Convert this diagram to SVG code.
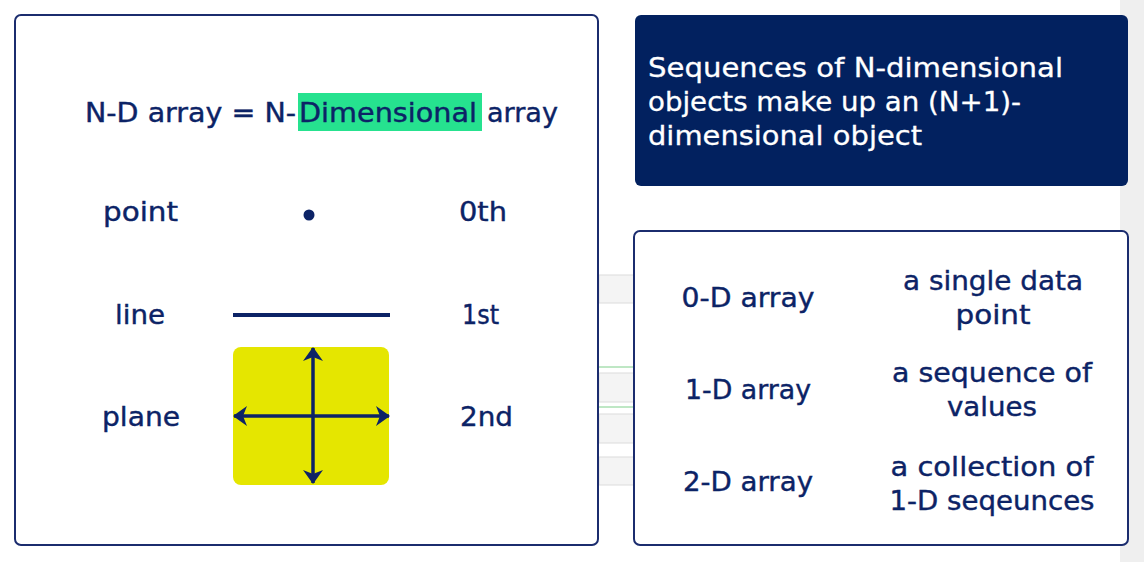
<svg xmlns="http://www.w3.org/2000/svg" width="1144" height="562" viewBox="0 0 1144 562">
<style>
.t{font-family:"DejaVu Sans","Liberation Sans",sans-serif;font-size:26px;fill:#0c2366;stroke:#0c2366;stroke-width:0.4}
.w{font-family:"DejaVu Sans","Liberation Sans",sans-serif;font-size:26px;fill:#ffffff;stroke:#ffffff;stroke-width:0.3}
.c{text-anchor:middle}
.box{fill:#ffffff;stroke:#1b2c6e;stroke-width:2}
.ax{stroke:#0c2366;stroke-width:3.5;fill:none}
.strip{fill:#f4f4f4;stroke:#dcdcdc;stroke-width:1}
</style>
<defs>
<marker id="ah" viewBox="0 0 14 20" refX="13" refY="10" markerWidth="14" markerHeight="20" markerUnits="userSpaceOnUse" orient="auto-start-reverse">
<path d="M0,0 L14,10 L0,20 L4,10 Z" fill="#0c2366"/>
</marker>
</defs>
<rect width="1144" height="562" fill="#ffffff"/>
<rect x="1120" y="0" width="24" height="562" fill="#efefef"/>
<g id="gaps">
<rect class="strip" x="599" y="275" width="35" height="28"/>
<line x1="599" y1="367" x2="634" y2="367" stroke="#7fcf8a" stroke-width="1"/>
<rect class="strip" x="599" y="373" width="35" height="29"/>
<line x1="599" y1="407" x2="634" y2="407" stroke="#7fcf8a" stroke-width="1"/>
<rect class="strip" x="599" y="414" width="35" height="29"/>
<rect class="strip" x="599" y="457" width="35" height="28"/>
</g>
<g id="left-panel">
<rect class="box" x="15" y="15" width="583" height="530" rx="6"/>
<rect x="298" y="93" width="184" height="38" fill="#26e28f"/>
<text class="t" y="122"><tspan x="85" textLength="211" lengthAdjust="spacingAndGlyphs">N-D array = N-</tspan><tspan x="299" textLength="178" lengthAdjust="spacingAndGlyphs">Dimensional</tspan><tspan x="487" textLength="71" lengthAdjust="spacingAndGlyphs">array</tspan></text>
</g>
<g id="row-point">
<text class="t" x="103" y="221" textLength="75" lengthAdjust="spacingAndGlyphs">point</text>
<circle cx="309" cy="215" r="5.5" fill="#0c2366"/>
<text class="t" x="459" y="221" textLength="48" lengthAdjust="spacingAndGlyphs">0th</text>
</g>
<g id="row-line">
<text class="t" x="115" y="324" textLength="50" lengthAdjust="spacingAndGlyphs">line</text>
<line x1="233" y1="315" x2="390" y2="315" stroke="#0c2366" stroke-width="4"/>
<text class="t" x="462" y="324" textLength="37" lengthAdjust="spacingAndGlyphs">1st</text>
</g>
<g id="row-plane">
<text class="t" x="102" y="426" textLength="78" lengthAdjust="spacingAndGlyphs">plane</text>
<rect x="233" y="347" width="156" height="138" rx="8" fill="#e5e600"/>
<line class="ax" x1="313" y1="348" x2="313" y2="483" marker-start="url(#ah)" marker-end="url(#ah)"/>
<line class="ax" x1="234" y1="416" x2="389" y2="416" marker-start="url(#ah)" marker-end="url(#ah)"/>
<text class="t" x="460" y="426" textLength="53" lengthAdjust="spacingAndGlyphs">2nd</text>
</g>
<g id="info-box">
<rect x="635" y="15" width="493" height="171" rx="6" fill="#02215f"/>
<text class="w" x="648" y="77" textLength="415" lengthAdjust="spacingAndGlyphs">Sequences of N-dimensional</text>
<text class="w" x="648" y="111" textLength="373" lengthAdjust="spacingAndGlyphs">objects make up an (N+1)-</text>
<text class="w" x="648" y="145" textLength="274" lengthAdjust="spacingAndGlyphs">dimensional object</text>
</g>
<g id="table-box">
<rect class="box" x="634" y="231" width="494" height="314" rx="6"/>
<text class="t c" x="748" y="307" textLength="133" lengthAdjust="spacingAndGlyphs">0-D array</text>
<text class="t c" x="993" y="290" textLength="180" lengthAdjust="spacingAndGlyphs">a single data</text>
<text class="t c" x="993" y="324" textLength="75" lengthAdjust="spacingAndGlyphs">point</text>
<text class="t c" x="748" y="399" textLength="126" lengthAdjust="spacingAndGlyphs">1-D array</text>
<text class="t c" x="992" y="382" textLength="200" lengthAdjust="spacingAndGlyphs">a sequence of</text>
<text class="t c" x="992" y="416" textLength="90" lengthAdjust="spacingAndGlyphs">values</text>
<text class="t c" x="748" y="491" textLength="130" lengthAdjust="spacingAndGlyphs">2-D array</text>
<text class="t c" x="992" y="476" textLength="203" lengthAdjust="spacingAndGlyphs">a collection of</text>
<text class="t c" x="992" y="510" textLength="205" lengthAdjust="spacingAndGlyphs">1-D seqeunces</text>
</g>
</svg>
